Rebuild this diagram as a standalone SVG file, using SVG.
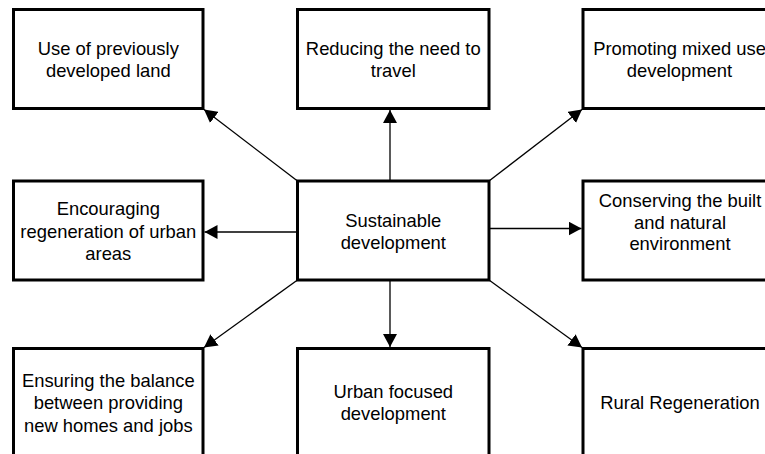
<svg xmlns="http://www.w3.org/2000/svg" width="765" height="454" viewBox="0 0 765 454">
<style>
.box{fill:#fff;stroke:#000;stroke-width:3}
.lbl{font-family:"Liberation Sans",Arial,sans-serif;font-size:18.4px;fill:#000;text-anchor:middle}
.con{stroke:#000;stroke-width:1.3;fill:none;marker-end:url(#ah)}
</style>
<defs>
<marker id="ah" markerUnits="userSpaceOnUse" markerWidth="13" markerHeight="14" refX="13" refY="7" orient="auto">
<path d="M0,0 L13,7 L0,14 z" fill="#000"/>
</marker>
</defs>
<rect width="765" height="454" fill="#fff"/>
<g id="connectors">
<line class="con" x1="297.5" y1="181" x2="204" y2="109.5"/>
<line class="con" x1="390" y1="181" x2="390" y2="110"/>
<line class="con" x1="489" y1="181" x2="582" y2="109.5"/>
<line class="con" x1="297.5" y1="232" x2="204.5" y2="232"/>
<line class="con" x1="489" y1="228.5" x2="581.5" y2="228.5"/>
<line class="con" x1="297.5" y1="280" x2="204" y2="347.5"/>
<line class="con" x1="390" y1="280" x2="390" y2="347"/>
<line class="con" x1="489" y1="280" x2="582" y2="347.5"/>
</g>
<g id="n1"><rect class="box" x="13.5" y="9.5" width="189.5" height="99"/>
<text class="lbl" x="108.3" y="54.5">Use of previously</text><text class="lbl" x="108.3" y="76.5">developed land</text></g>
<g id="n2"><rect class="box" x="297.5" y="9.5" width="191.5" height="99"/>
<text class="lbl" x="393.3" y="54.5">Reducing the need to</text><text class="lbl" x="393.3" y="76.5">travel</text></g>
<g id="n3"><rect class="box" x="583" y="9.5" width="192" height="99"/>
<text class="lbl" x="679.5" y="54.5">Promoting mixed use</text><text class="lbl" x="679.5" y="76.5">development</text></g>
<g id="n4"><rect class="box" x="13.5" y="181" width="189.5" height="99"/>
<text class="lbl" x="108.3" y="215">Encouraging</text><text class="lbl" x="108.3" y="237.5">regeneration of urban</text><text class="lbl" x="108.3" y="260">areas</text></g>
<g id="n5"><rect class="box" x="297.5" y="181" width="191.5" height="99"/>
<text class="lbl" x="393.3" y="226.5">Sustainable</text><text class="lbl" x="393.3" y="248.5">development</text></g>
<g id="n6"><rect class="box" x="583" y="181" width="192" height="99"/>
<text class="lbl" x="680" y="207">Conserving the built</text><text class="lbl" x="680" y="228.5">and natural</text><text class="lbl" x="680" y="250">environment</text></g>
<g id="n7"><rect class="box" x="13.5" y="348.5" width="189.5" height="112"/>
<text class="lbl" x="108.3" y="386.7">Ensuring the balance</text><text class="lbl" x="108.3" y="409.2">between providing</text><text class="lbl" x="108.3" y="431.7">new homes and jobs</text></g>
<g id="n8"><rect class="box" x="297.5" y="348.5" width="191.5" height="112"/>
<text class="lbl" x="393.3" y="398.3">Urban focused</text><text class="lbl" x="393.3" y="420.3">development</text></g>
<g id="n9"><rect class="box" x="583" y="348.5" width="192" height="112"/>
<text class="lbl" x="680" y="409">Rural Regeneration</text></g>
</svg>
